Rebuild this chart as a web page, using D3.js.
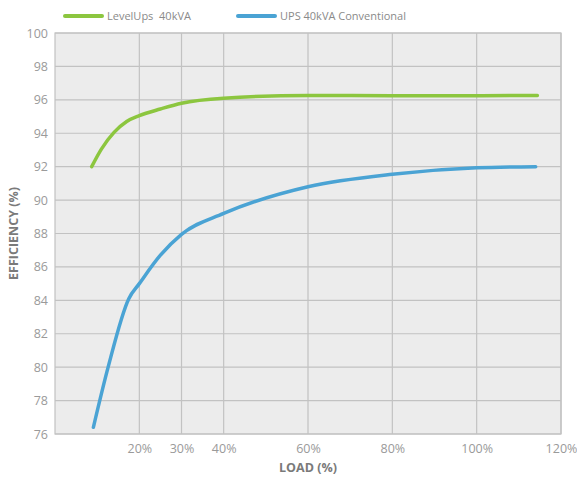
<!DOCTYPE html>
<html><head><meta charset="utf-8">
<script src="https://cdn.jsdelivr.net/npm/d3@7"></script>
<style>body{margin:0;background:#fff}svg{display:block}</style>
</head><body>
<svg id="c" width="577" height="481"></svg>
<script>
const seriesNames = ["LevelUps  40kVA", "UPS 40kVA Conventional"];
const seriesColors = ["#8cc63f", "#4aa3d4"];
const greenLoad = [8.7, 11.0, 14.0, 17.0, 20, 25, 30, 40, 60, 80, 100, 114.4];
const greenEff  = [92.0, 93.05, 94.05, 94.7, 95.05, 95.45, 95.8, 96.1, 96.26, 96.25, 96.25, 96.26];
const blueLoad = [9.1, 12.6, 17.5, 20, 25, 30, 40, 60, 80, 100, 114];
const blueEff  = [76.4, 80.0, 84.1, 85.0, 86.7, 87.95, 89.2, 90.8, 91.55, 91.93, 92.0];
const xTicks = [20, 30, 40, 60, 80, 100, 120];
const yTicks = [76, 78, 80, 82, 84, 86, 88, 90, 92, 94, 96, 98, 100];

const svg = d3.select("#c");
const L = 55, R = 561, T = 33, B = 434;
const x = d3.scaleLinear().domain([0, 120]).range([L, R]);
const y = d3.scaleLinear().domain([76, 100]).range([B, T]);
const font = "'Open Sans', 'Noto Sans', sans-serif";

svg.append("rect").attr("x", L).attr("y", T).attr("width", R - L).attr("height", B - T)
  .attr("fill", "#ececec");

// grid
svg.append("g").selectAll("line").data(yTicks).join("line")
  .attr("x1", L).attr("x2", R).attr("y1", d => y(d)).attr("y2", d => y(d))
  .attr("stroke", "#c2c2c2").attr("stroke-width", 1.2);
svg.append("g").selectAll("line").data(xTicks).join("line")
  .attr("x1", d => x(d)).attr("x2", d => x(d)).attr("y1", T).attr("y2", B)
  .attr("stroke", "#c2c2c2").attr("stroke-width", 1.2);
svg.append("rect").attr("x", L).attr("y", T).attr("width", R - L).attr("height", B - T)
  .attr("fill", "none").attr("stroke", "#c2c2c2").attr("stroke-width", 1.2);

// axes labels
const yAxis = d3.axisLeft(y).tickValues(yTicks).tickSize(0).tickPadding(7);
const gy = svg.append("g").attr("transform", `translate(${L},0)`).call(yAxis);
gy.select(".domain").remove();
gy.selectAll("text").attr("fill", "#9a9a9a").style("font-family", font).style("font-size", "12.5px");

const xAxis = d3.axisBottom(x).tickValues(xTicks).tickSize(0).tickPadding(10).tickFormat(d => d + "%");
const gx = svg.append("g").attr("transform", `translate(0,${B})`).call(xAxis);
gx.select(".domain").remove();
gx.selectAll("text").attr("fill", "#9a9a9a").style("font-family", font).style("font-size", "12.5px");

svg.append("text").attr("x", (L + R) / 2).attr("y", 472).attr("text-anchor", "middle")
  .attr("fill", "#7a7a7a").style("font-family", font).style("font-weight", "bold").style("font-size", "12.5px")
  .text("LOAD (%)");
svg.append("text").attr("transform", `translate(18,${(T + B) / 2}) rotate(-90)`).attr("text-anchor", "middle")
  .attr("fill", "#7a7a7a").style("font-family", font).style("font-weight", "bold").style("font-size", "12.5px")
  .text("EFFICIENCY (%)");

// lines
const line = d3.line().x(d => x(d[0])).y(d => y(d[1])).curve(d3.curveMonotoneX);
const data = [d3.zip(greenLoad, greenEff), d3.zip(blueLoad, blueEff)];
svg.append("g").selectAll("path").data(data).join("path")
  .attr("d", line).attr("fill", "none")
  .attr("stroke", (d, i) => seriesColors[i]).attr("stroke-width", 3.5).attr("stroke-linecap", "round");

// legend
const legX = [65, 238];
const lg = svg.append("g").selectAll("g").data(seriesNames).join("g")
  .attr("transform", (d, i) => `translate(${legX[i]},16)`);
lg.append("line").attr("x1", 0).attr("x2", 37).attr("y1", 0).attr("y2", 0)
  .attr("stroke", (d, i) => seriesColors[i]).attr("stroke-width", 4).attr("stroke-linecap", "round");
lg.append("text").attr("x", 42).attr("y", 4).attr("fill", "#8a8a8a")
  .style("font-family", font).style("font-size", "11px").style("white-space", "pre")
  .attr("xml:space", "preserve").text(d => d);
</script>
</body></html>
